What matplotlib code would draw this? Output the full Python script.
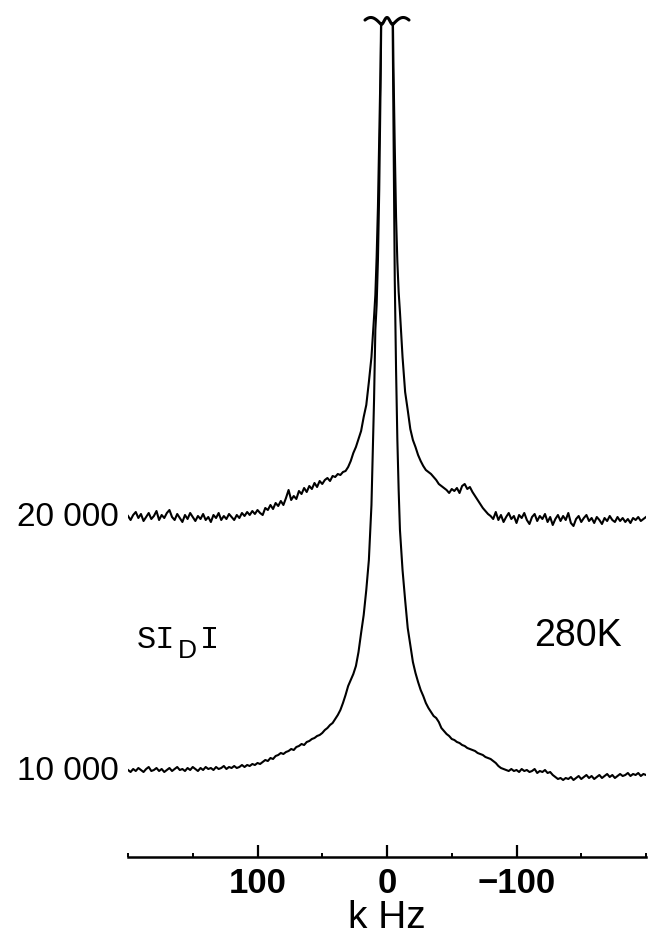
import numpy as np
import matplotlib
matplotlib.use('Agg')
import matplotlib.pyplot as plt

# frequency axis (kHz), left to right as drawn
freq_left = [200, 198, 196, 194, 192, 190, 188, 186, 184, 182,
             180, 178, 176, 174, 172, 170, 168, 166, 164, 162,
             160, 158, 156, 154, 152, 150, 148, 146, 144, 142,
             140, 138, 136, 134, 132, 130, 128, 126, 124, 122,
             120, 118, 116, 114, 112, 110, 108, 106, 104, 102,
             100, 98, 96, 94, 92, 90, 88, 86, 84, 82,
             80, 78, 76, 74, 72, 70, 68, 66, 64, 62,
             60, 58, 56, 54, 52, 50, 48, 46, 44, 42,
             40, 38, 36, 34, 32, 30, 28, 26, 24, 22]
freq_center = [20, 18, 16, 14, 12, 10, 9, 8, 7, 6, 5, 4, 3, 2, 1, 0,
               -1, -2, -3, -4, -5, -6, -7, -8, -9, -10, -12, -14, -16, -18, -20]
freq_right = [-22, -24, -26, -28, -30, -32, -34, -36, -38, -40,
              -42, -44, -46, -48, -50, -52, -54, -56, -58, -60,
              -62, -64, -66, -68, -70, -72, -74, -76, -78, -80,
              -82, -84, -86, -88, -90, -92, -94, -96, -98, -100,
              -102, -104, -106, -108, -110, -112, -114, -116, -118, -120,
              -122, -124, -126, -128, -130, -132, -134, -136, -138, -140,
              -142, -144, -146, -148, -150, -152, -154, -156, -158, -160,
              -162, -164, -166, -168, -170, -172, -174, -176, -178, -180,
              -182, -184, -186, -188, -190, -192, -194, -196, -198, -200]

# 20 000 trace, signal above its baseline
upper_left = [1, -3, 2, 5, -1, 3, -4, 0, 4, -2,
              1, 6, -3, 2, -1, 4, 7, 0, -3, 3,
              -1, -5, 2, -2, 4, 0, -4, 1, -2, 3,
              -3, 0, -5, 2, -1, 4, -3, 1, -2, 3,
              0, -3, 2, -1, 4, 1, 5, 2, 6, 3,
              7, 4, 2, 9, 7, 12, 8, 14, 11, 16,
              12, 19, 27, 17, 21, 18, 26, 23, 29, 25,
              31, 28, 34, 30, 36, 33, 37, 39, 36, 41,
              40, 43, 42, 45, 46, 50, 56, 64, 70, 78]
upper_center = [86, 100, 112, 135, 160, 200, 222, 260, 310, 380, 450, 560, 700, 850, 950, 1000,
                950, 850, 700, 560, 450, 370, 300, 255, 225, 205, 160, 125, 107, 88, 77]
upper_right = [70, 62, 56, 51, 47, 45, 43, 40, 37, 33,
               31, 29, 27, 24, 28, 26, 29, 24, 31, 33,
               28, 30, 25, 21, 17, 13, 9, 6, 3, 1,
               -2, 5, -3, 2, -5, 0, 4, -2, 1, -6,
               2, -1, 4, -3, -7, 0, 3, -4, 1, -2,
               3, -5, 0, -8, -2, 2, -4, 1, -3, 4,
               -6, -9, -2, 1, -5, -1, 2, -4, -1, -6,
               0, -3, -7, -1, -4, 1, -3, -5, 0, -4,
               -1, -5, -2, -6, -1, -3, 0, -4, -2, 0]

# 10 000 trace, signal above its baseline
lower_left = [0, -2, 1, -1, 2, 0, -2, 1, 3, -1,
              0, 2, -1, 1, -2, 0, 2, -1, 1, 3,
              0, 1, -1, 2, 0, 3, 1, -1, 2, 0,
              3, 1, 2, 0, 3, 1, 2, 4, 1, 3,
              2, 4, 2, 3, 5, 3, 5, 4, 6, 5,
              7, 6, 8, 10, 9, 12, 11, 14, 15, 17,
              16, 18, 19, 21, 20, 23, 24, 26, 25, 28,
              29, 31, 32, 34, 35, 37, 40, 42, 45, 47,
              51, 55, 60, 67, 75, 84, 90, 96, 104, 118]
lower_center = [137, 155, 180, 210, 265, 370, 440, 465, 510, 580, 680, 800, 950, 1100, 1200, 1250,
                1200, 1100, 950, 800, 650, 490, 400, 330, 280, 240, 200, 170, 142, 125, 108]
lower_right = [97, 88, 80, 74, 67, 62, 58, 54, 52, 48,
               42, 39, 36, 34, 31, 30, 28, 27, 25, 24,
               22, 21, 20, 19, 17, 16, 15, 13, 12, 11,
               9, 7, 4, 2, 1, 0, -1, 1, -1, 0,
               -2, 1, -1, 0, -2, -1, 1, -3, -1, -2,
               0, -3, -2, -5, -7, -9, -8, -10, -8, -9,
               -7, -10, -8, -6, -9, -7, -5, -8, -6, -9,
               -7, -5, -8, -6, -4, -7, -5, -8, -6, -4,
               -6, -5, -3, -6, -4, -5, -3, -6, -4, -5]

trace_labels = ['20 000', '10 000']
major_ticks = [100, 0, -100]
major_labels = ['100', '0', '\u2212100']
minor_ticks = [200, 150, 50, -50, -150, -200]

UPPER_BASE = 340
LOWER_BASE = 87
Y_TOP = 832

W, H = 653, 940
SANS = ['Liberation Sans', 'DejaVu Sans']
MONO = ['Liberation Mono', 'DejaVu Sans Mono']


def fx(px):
    return px / W


def fy(py):
    return 1 - py / H


def main():
    fig = plt.figure(figsize=(W / 100, H / 100), dpi=100)
    ax = fig.add_axes([fx(128), fy(857), fx(646) - fx(128), fy(25) - fy(857)])

    x = np.array(freq_left + freq_center + freq_right)
    upper = np.array(upper_left + upper_center + upper_right)
    lower = np.array(lower_left + lower_center + lower_right)
    ax.plot(x, upper + UPPER_BASE, color='black', lw=1.5)
    ax.plot(x, lower + LOWER_BASE, color='black', lw=1.5)

    # break mark on top of the truncated central line
    xc = np.linspace(17, -17, 120)
    ax_ = np.abs(xc)
    amp = 3.5
    yc = np.where(ax_ <= 4.5,
                  amp * np.cos(2 * np.pi * xc / 9),
                  -amp + 2 * amp * np.sin(np.pi / 2 * (ax_ - 4.5) / 8))
    ax.plot(xc, Y_TOP + 4 + yc, color='black', lw=2.2, clip_on=False,
            solid_capstyle='round')

    ax.set_xlim(200, -200)
    ax.set_ylim(0, Y_TOP)
    for s in ['top', 'left', 'right']:
        ax.spines[s].set_visible(False)
    ax.spines['bottom'].set_linewidth(1.8)
    ax.set_yticks([])
    ax.set_xticks(major_ticks)
    ax.set_xticklabels(major_labels, family=SANS, fontsize=25, fontweight='bold')
    ax.set_xticks(minor_ticks, minor=True)
    ax.tick_params(axis='x', which='major', direction='in', length=9, width=1.6, pad=7)
    ax.tick_params(axis='x', which='minor', direction='in', length=3, width=1.4)
    ax.set_xlabel('k Hz', family=SANS, fontsize=28, labelpad=0)
    ax.patch.set_visible(False)

    fig.text(fx(119), fy(518), trace_labels[0], ha='right', va='center',
             family=SANS, fontsize=24)
    fig.text(fx(119), fy(771), trace_labels[1], ha='right', va='center',
             family=SANS, fontsize=24)

    fig.text(fx(137), fy(648), 'SI', ha='left', va='baseline', family=MONO, fontsize=23)
    fig.text(fx(178), fy(658), 'D', ha='left', va='baseline', family=SANS, fontsize=19)
    fig.text(fx(200), fy(648), 'I', ha='left', va='baseline', family=MONO, fontsize=23)
    fig.text(fx(622), fy(646), '280K', ha='right', va='baseline', family=SANS, fontsize=27)

    fig.savefig('out.png', dpi=100)


if __name__ == '__main__':
    main()
